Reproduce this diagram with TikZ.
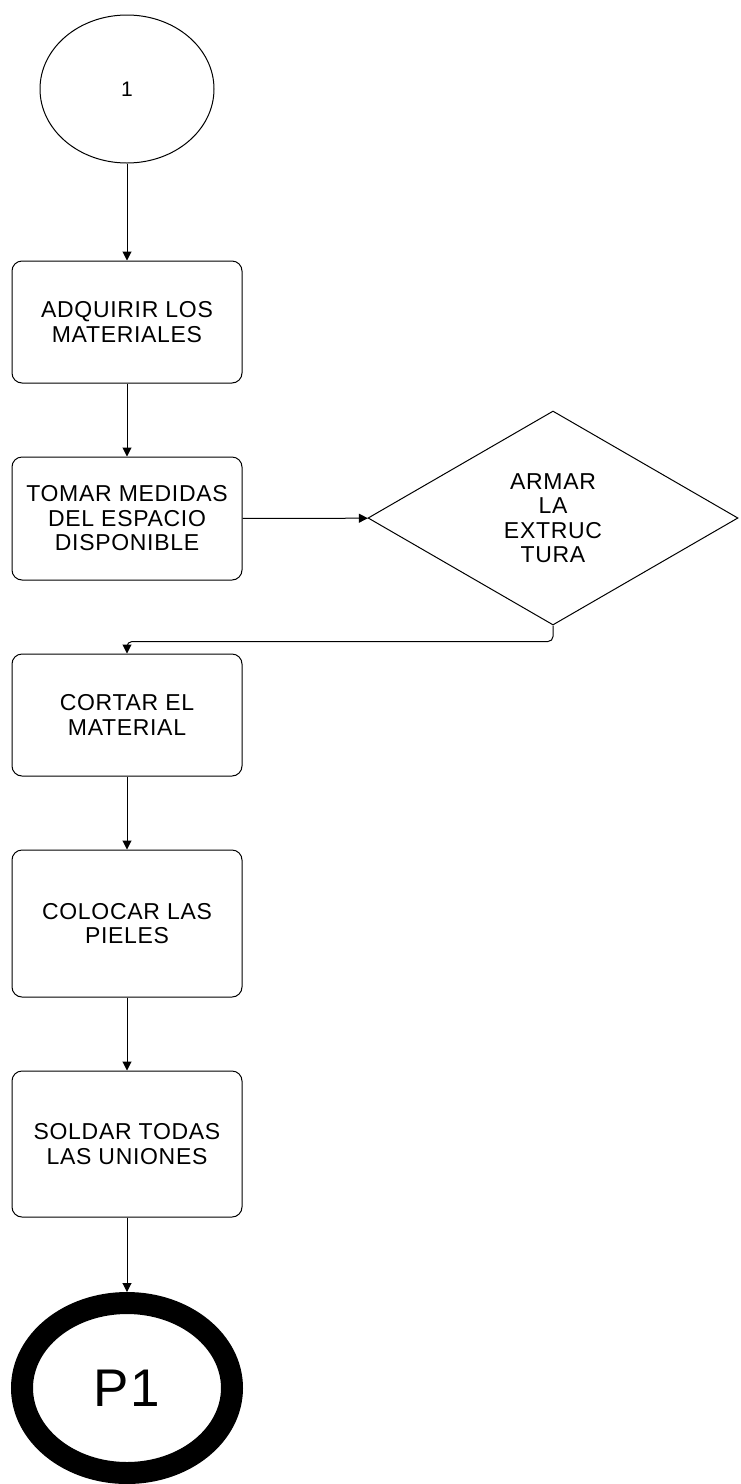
\documentclass[tikz,border=0pt]{standalone}
\usepackage{fontspec}
\setmainfont{Liberation Sans}[LetterSpace=3]
\usetikzlibrary{shapes.geometric,arrows.meta}
\begin{document}
\begin{tikzpicture}[x=1pt,y=-1pt,
  every node/.style={font=\fontsize{23}{24.5}\selectfont, align=center},
  procbox/.style={draw, line width=1pt, rounded corners=10pt, minimum width=230pt, inner sep=0pt},
  flow/.style={draw, line width=1pt, -{Triangle[length=9pt,width=9pt]}},
  startell/.style={draw, ellipse, line width=1pt, minimum width=174pt, minimum height=148pt, inner sep=0pt},
  endell/.style={draw, ellipse, line width=22pt, minimum width=210pt, minimum height=170pt, inner sep=0pt},
  decide/.style={draw, diamond, line width=1pt, minimum width=370pt, minimum height=214pt, inner sep=0pt}
]
\useasboundingbox (0,0) rectangle (740,1484);
\node[startell, font=\fontsize{21}{24}\selectfont] (s) at (127,89) {1};
\node[procbox, minimum height=122pt] (b1) at (127,322) {ADQUIRIR LOS\\MATERIALES};
\node[procbox, minimum height=123pt] (b2) at (127,518.5) {TOMAR MEDIDAS\\DEL ESPACIO\\DISPONIBLE};
\node[decide] (d) at (553,518) {ARMAR\\LA\\EXTRUC\\TURA};
\node[procbox, minimum height=122pt] (b3) at (127,715) {CORTAR EL\\MATERIAL};
\node[procbox, minimum height=147pt] (b4) at (127,923.5) {COLOCAR LAS\\PIELES};
\node[procbox, minimum height=146pt] (b5) at (127,1144) {SOLDAR TODAS\\LAS UNIONES};
\node[endell, font=\fontsize{53}{60}\selectfont] (e) at (127,1388) {P1};
\draw[flow] (s) -- (b1);
\draw[flow] (b1) -- (b2);
\draw[flow] (b2) -- (d);
\draw[flow, rounded corners=5pt] (d.south) -- ++(0,16) -| (b3.north);
\draw[flow] (b3) -- (b4);
\draw[flow] (b4) -- (b5);
\draw[flow] (b5) -- (e);
\end{tikzpicture}
\end{document}
